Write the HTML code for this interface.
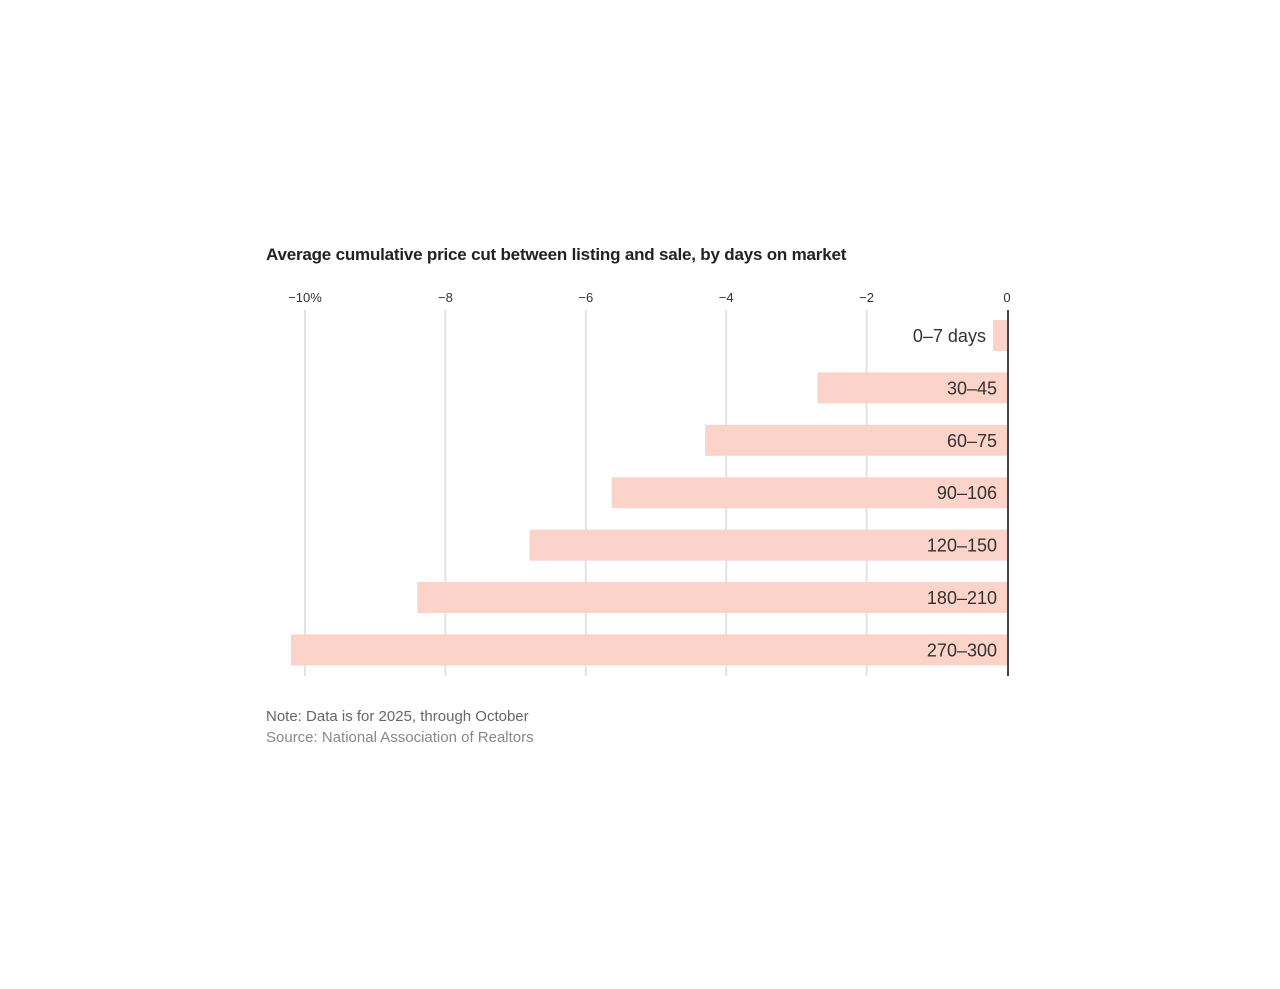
<!DOCTYPE html>
<html><head><meta charset="utf-8"><style>
body{margin:0;background:#fff;width:1280px;height:989px;overflow:hidden;font-family:"Liberation Sans",sans-serif}
svg{position:absolute;left:0;top:0}
</style></head><body>
<svg width="1280" height="989">
<text x="266" y="260" font-size="17" font-weight="bold" fill="#222" letter-spacing="-0.2">Average cumulative price cut between listing and sale, by days on market</text>
<g id="grid"></g><g id="bars"></g><g id="labels"></g>
<line x1="1008" y1="310" x2="1008" y2="676" stroke="#444" stroke-width="2"/>
<text x="266" y="721" font-size="15" fill="#666">Note: Data is for 2025, through October</text>
<text x="266" y="742" font-size="15" fill="#888">Source: National Association of Realtors</text>
</svg>
<script>
const categories=["0–7 days","30–45","60–75","90–106","120–150","180–210","270–300"];
const values=[-0.2,-2.7,-4.3,-5.63,-6.8,-8.4,-10.2];
const ticks=[-10,-8,-6,-4,-2,0];
const tickLabels=["−10%","−8","−6","−4","−2","0"];
const NS="http://www.w3.org/2000/svg";
const x=v=>1007+v*70.2;
const y=i=>320+i*52.4;
function mk(t,a,p){const e=document.createElementNS(NS,t);for(const k in a)e.setAttribute(k,a[k]);document.getElementById(p).appendChild(e);return e;}
ticks.forEach((t,i)=>{
  if(t!==0){const l=mk('line',{x1:x(t),x2:x(t),y1:310,y2:676,stroke:'#e2e2e2','stroke-width':2},'grid');
  
  }
  const tx=mk('text',{x:x(t),y:302,'font-size':13,fill:'#333','text-anchor':'middle'},'grid');
  tx.textContent=tickLabels[i];
  
  
});
categories.forEach((c,i)=>{
  const bx=x(values[i]);
  const r=mk('rect',{x:bx,y:y(i),width:x(0)-bx,height:31,fill:'#fbd3c9'},'bars');
  
  
  const lx=(x(0)-bx<60)?bx-7:997;
  const t=mk('text',{x:lx,y:y(i)+22,'font-size':18,fill:'#333','text-anchor':'end'},'labels');
  t.textContent=c;
  
  
});
</script>
</body></html>
